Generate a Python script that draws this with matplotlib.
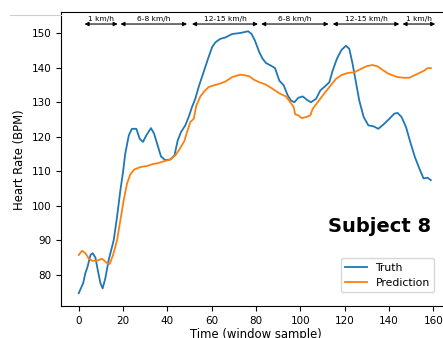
import matplotlib
matplotlib.use("Agg")
import matplotlib.pyplot as plt
from matplotlib.lines import Line2D

# ---- data ----
truth_x = [0, 2, 3, 4, 5.3, 6.3, 7.5, 8.6, 9.8, 10.8, 12, 13.5, 15.8, 17.3, 18.8, 20, 21,
           22.6, 24, 26, 27.5, 29, 30.5, 32.6, 34, 35.6, 37.1, 39, 41.4, 43.2, 44.7, 46.2,
           48.1, 49.6, 51.1, 52.6, 54.1, 55.6, 57.1, 58.6, 60.2, 61.7, 63.9, 66.2, 69.2,
           72.9, 76.5, 78, 79.5, 81.5, 83, 84.5, 86.8, 88.6, 90.5, 92.5, 94.3, 95.8, 97.3,
           99.1, 101.1, 103, 104.8, 107.1, 109, 111.1, 113.1, 114.6, 116.5, 118.6, 120.6,
           122.1, 123.6, 125.1, 126.6, 128.6, 130.7, 133.1, 135.2, 137.6, 140.2, 142.4,
           143.9, 145.7, 147.7, 149.6, 151.7, 153.7, 155.6, 157.4, 158.9]
truth_y = [74.6, 77.5, 80.4, 82.3, 85.7, 86.2, 85.0, 81.3, 77.5, 76.0, 78.9, 84.2, 90.0,
           96.8, 104.5, 109.8, 115.1, 120.4, 122.3, 122.3, 119.4, 118.5, 120.4, 122.5,
           120.9, 117.5, 114.3, 113.2, 113.4, 114.6, 119.0, 121.4, 123.3, 125.7, 128.6,
           131.0, 134.4, 137.3, 140.2, 143.1, 146.0, 147.4, 148.4, 148.8, 149.8, 150.1,
           150.6, 149.8, 147.9, 144.5, 142.6, 141.4, 140.6, 139.9, 136.3, 134.9, 132.0,
           130.5, 130.0, 131.3, 131.7, 130.7, 130.0, 131.0, 133.4, 134.6, 135.8, 139.2,
           142.6, 145.2, 146.4, 145.5, 141.1, 135.8, 130.5, 125.7, 123.3, 123.0, 122.3,
           123.6, 125.2, 126.7, 126.9, 125.7, 122.8, 118.5, 114.1, 110.8, 107.9, 108.1,
           107.4]

pred_x = [0, 1.5, 3, 4.5, 6, 8, 9, 10.5, 11.6, 12.8, 14, 15.5, 17.3, 18.8, 20.3, 21.8,
          23.3, 25.1, 27.8, 30.8, 33.1, 36.1, 39.1, 41.4, 43.6, 45.6, 47.7, 48.9, 50.4,
          51.9, 53.1, 54.9, 56.7, 58.6, 60.9, 63.2, 66.2, 69.2, 72.9, 75.2, 77, 79.2,
          81.5, 84.5, 87.5, 90.5, 93.5, 95.5, 97, 97.7, 99.1, 100.6, 102.6, 104.5, 105.6,
          107.8, 110.5, 113.1, 116.1, 118.6, 121.4, 124.4, 127.4, 130.1, 132.6, 134.9,
          137.1, 139.4, 141.7, 143.9, 146.9, 149.2, 151.4, 153.7, 155.9, 157.4, 158.9]
pred_y = [85.7, 86.9, 86.2, 84.7, 84.0, 84.0, 84.2, 84.6, 84.0, 83.3, 83.1, 85.7, 90.0,
          95.8, 101.6, 106.4, 109.1, 110.5, 111.2, 111.5, 112.0, 112.4, 113.0, 113.4,
          114.6, 116.5, 118.8, 121.4, 124.3, 125.2, 129.1, 131.7, 133.2, 134.4, 134.9,
          135.3, 136.0, 137.3, 138.0, 137.8, 137.5, 136.5, 135.8, 135.1, 133.9, 132.6,
          131.7, 130.0, 128.6, 126.5, 126.2, 125.4, 125.7, 126.2, 128.1, 130.0, 132.3,
          134.4, 136.8, 137.9, 138.5, 138.7, 139.7, 140.5, 140.8, 140.4, 139.4, 138.4,
          137.8, 137.3, 137.1, 137.1, 137.8, 138.5, 139.2, 139.9, 139.9]

seg_labels = ["1 km/h", "6-8 km/h", "12-15 km/h", "6-8 km/h", "12-15 km/h", "1 km/h"]
seg_start = [2.6, 18.8, 51.1, 82.3, 114.6, 146.1]
seg_end = [17.6, 48.9, 80.9, 112.8, 144.7, 160.9]

xticks = [0, 20, 40, 60, 80, 100, 120, 140, 160]
yticks = [80, 90, 100, 110, 120, 130, 140, 150]

# ---- figure ----
W, H = 443, 338
fig = plt.figure(figsize=(W / 100, H / 100), dpi=100)
ax = fig.add_axes([61 / W, (H - 306.3) / H, (451 - 61) / W, (306.3 - 12.3) / H])

ax.plot(truth_x, truth_y, color="#1f77b4", lw=1.3, label="Truth")
ax.plot(pred_x, pred_y, color="#ff7f0e", lw=1.3, label="Prediction")

arrow_y = 152.7
text_y = 154.25
for lab, s, e in zip(seg_labels, seg_start, seg_end):
    ax.annotate("", xy=(s, arrow_y), xytext=(e, arrow_y),
                arrowprops=dict(arrowstyle="<|-|>", color="black", lw=0.8,
                                mutation_scale=6, shrinkA=0, shrinkB=0))
    ax.text((s + e) / 2, text_y, lab, ha="center", va="center", fontsize=5.4)

ax.text(159, 92.5, "Subject 8", ha="right", va="baseline", fontsize=14,
        fontweight="bold")

ax.set_xlim(-8, 168)
ax.set_ylim(70.8, 156.1)
ax.set_xticks(xticks)
ax.set_yticks(yticks)
ax.tick_params(labelsize=7.5, width=0.8, length=3.5)
ax.set_xlabel("Time (window sample)", fontsize=8.4, labelpad=1.5)
ax.set_ylabel("Heart Rate (BPM)", fontsize=8.4)

leg = ax.legend(loc="lower right", bbox_to_anchor=(434 / W, (H - 292.3) / H),
                bbox_transform=fig.transFigure, borderaxespad=0, fontsize=7.8)

fig.add_artist(Line2D([10 / W, 61 / W], [(H - 15) / H, (H - 15) / H],
                      transform=fig.transFigure, color="#d0d0d0", lw=0.8))

fig.savefig("out.png", dpi=100)
